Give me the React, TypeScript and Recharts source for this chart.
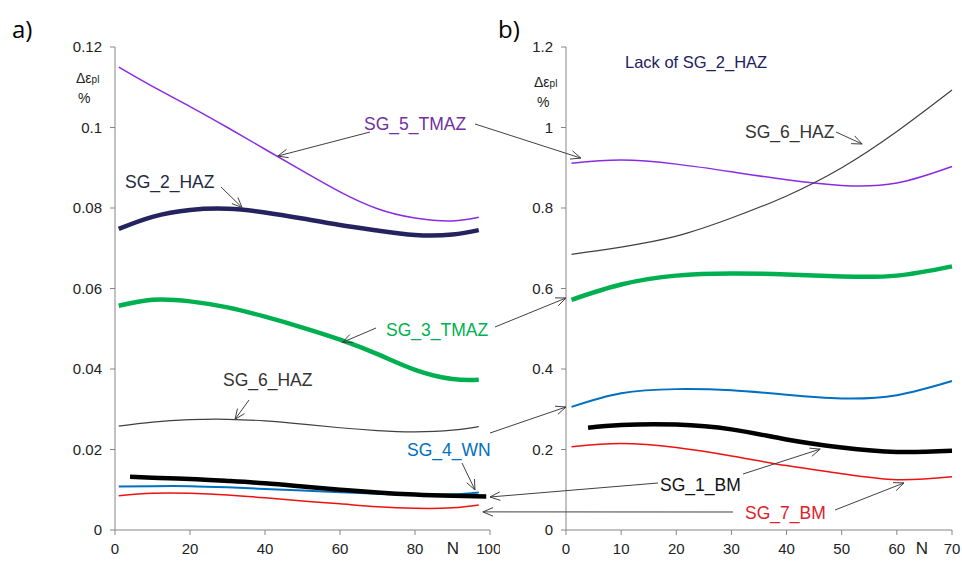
import React from "react";
import { LineChart, Line, XAxis, YAxis } from "recharts";

// panel a) x positions (cycles N)
const leftN = [1, 10, 20, 30, 40, 50, 60, 70, 80, 90, 97];
const leftBmN = [4, 10, 20, 30, 40, 50, 60, 70, 80, 90, 99];
const sg5TmazA = [0.115, 0.1102, 0.1052, 0.1, 0.0946, 0.0892, 0.084, 0.0798, 0.0775, 0.0768, 0.0777];
const sg2HazA = [0.0748, 0.0778, 0.0795, 0.0798, 0.0789, 0.0774, 0.0758, 0.0744, 0.0733, 0.0734, 0.0745];
const sg3TmazA = [0.0557, 0.0572, 0.0568, 0.0553, 0.053, 0.0503, 0.0473, 0.0437, 0.0398, 0.0375, 0.0373];
const sg6HazA = [0.0258, 0.0268, 0.0274, 0.0275, 0.0271, 0.0263, 0.0254, 0.0247, 0.0244, 0.0248, 0.0257];
const sg4WnA = [0.0108, 0.0109, 0.0109, 0.0106, 0.0102, 0.0098, 0.0094, 0.009, 0.0087, 0.0088, 0.0093];
const sg7BmA = [0.0085, 0.0091, 0.0091, 0.0087, 0.008, 0.0072, 0.0065, 0.0058, 0.0054, 0.0055, 0.0062];
const sg1BmA = [0.0132, 0.013, 0.0127, 0.0122, 0.0116, 0.0108, 0.01, 0.0093, 0.0088, 0.0085, 0.0083];

// panel b) x positions
const rightN = [1, 10, 20, 30, 40, 50, 60, 70];
const rightBmN = [4, 10, 20, 30, 40, 50, 60, 70];
const sg5TmazB = [0.911, 0.919, 0.909, 0.89, 0.87, 0.856, 0.862, 0.903];
const sg6HazB = [0.685, 0.703, 0.73, 0.775, 0.83, 0.9, 0.99, 1.093];
const sg3TmazB = [0.572, 0.61, 0.632, 0.637, 0.635, 0.63, 0.632, 0.655];
const sg4WnB = [0.306, 0.34, 0.35, 0.347, 0.336, 0.327, 0.335, 0.37];
const sg1BmB = [0.254, 0.261, 0.262, 0.25, 0.225, 0.205, 0.194, 0.197];
const sg7BmB = [0.207, 0.215, 0.205, 0.184, 0.16, 0.14, 0.125, 0.132];

const leftXTicks = [0, 20, 40, 60, 80, 100];
const leftYTicks = [0, 0.02, 0.04, 0.06, 0.08, 0.1, 0.12];
const rightXTicks = [0, 10, 20, 30, 40, 50, 60, 70];
const rightYTicks = [0, 0.2, 0.4, 0.6, 0.8, 1, 1.2];

const zip = (xs: number[], ys: number[]) => xs.map((x, i) => ({ n: x, v: ys[i] }));

// layout
const H = 561;
const TOP = 47;
const BOTTOM = 530;
const A = { left: 0, width: 500, mLeft: 55, mRight: 10, yw: 60, max: 100, ymax: 0.12 };
const B = { left: 500, width: 462, mLeft: 6, mRight: 10, yw: 60, max: 70, ymax: 1.2 };

type Panel = typeof A;
const px = (p: Panel, n: number) => {
  const x0 = p.left + p.mLeft + p.yw;
  const x1 = p.left + p.width - p.mRight;
  return x0 + (n / p.max) * (x1 - x0);
};
const py = (p: Panel, v: number) => BOTTOM - (v / p.ymax) * (BOTTOM - TOP);

const axisGray = "#868686";
const font = "'Liberation Sans', Arial, sans-serif";
const tickStyle = { fill: "#222", fontSize: 15, fontFamily: font };

interface SeriesDef {
  key: string;
  data: { n: number; v: number }[];
  color: string;
  width: number;
}

const seriesA: SeriesDef[] = [
  { key: "sg5", data: zip(leftN, sg5TmazA), color: "#8a2be2", width: 1.5 },
  { key: "sg2", data: zip(leftN, sg2HazA), color: "#25235f", width: 4.5 },
  { key: "sg3", data: zip(leftN, sg3TmazA), color: "#00b050", width: 4.5 },
  { key: "sg6", data: zip(leftN, sg6HazA), color: "#404040", width: 1.2 },
  { key: "sg7", data: zip(leftN, sg7BmA), color: "#ee1111", width: 1.5 },
  { key: "sg4", data: zip(leftN, sg4WnA), color: "#0070c0", width: 2 },
  { key: "sg1", data: zip(leftBmN, sg1BmA), color: "#000000", width: 4.5 },
];

const seriesB: SeriesDef[] = [
  { key: "sg5", data: zip(rightN, sg5TmazB), color: "#8a2be2", width: 1.5 },
  { key: "sg6", data: zip(rightN, sg6HazB), color: "#404040", width: 1.2 },
  { key: "sg3", data: zip(rightN, sg3TmazB), color: "#00b050", width: 4.5 },
  { key: "sg4", data: zip(rightN, sg4WnB), color: "#0070c0", width: 2 },
  { key: "sg7", data: zip(rightN, sg7BmB), color: "#ee1111", width: 1.5 },
  { key: "sg1", data: zip(rightBmN, sg1BmB), color: "#000000", width: 4.5 },
];

function Panel({ p, series, xTicks, yTicks }: { p: Panel; series: SeriesDef[]; xTicks: number[]; yTicks: number[] }) {
  return (
    <div style={{ position: "absolute", left: p.left, top: 0 }}>
      <LineChart
        width={p.width}
        height={H}
        margin={{ top: TOP, right: p.mRight, left: p.mLeft, bottom: 0 }}
      >
        <XAxis
          type="number"
          dataKey="n"
          domain={[0, p.max]}
          ticks={xTicks}
          height={H - BOTTOM}
          tick={tickStyle}
          tickSize={5}
          tickMargin={8}
          axisLine={{ stroke: axisGray }}
          tickLine={{ stroke: axisGray }}
          allowDuplicatedCategory={false}
        />
        <YAxis
          type="number"
          domain={[0, p.ymax]}
          ticks={yTicks}
          width={p.yw}
          tick={tickStyle}
          tickSize={5}
          tickMargin={8}
          axisLine={{ stroke: axisGray }}
          tickLine={{ stroke: axisGray }}
        />
        {series.map((s) => (
          <Line
            key={s.key}
            data={s.data}
            dataKey="v"
            type="natural"
            stroke={s.color}
            strokeWidth={s.width}
            dot={false}
            activeDot={false}
            isAnimationActive={false}
          />
        ))}
      </LineChart>
    </div>
  );
}

// annotations: label text in page px, arrows from a page point to a data point
interface Note {
  text: string;
  x: number;
  y: number;
  color: string;
  arrows: { from: [number, number]; panel: Panel; n: number; v: number }[];
}

const notes: Note[] = [
  {
    text: "SG_5_TMAZ", x: 364, y: 124, color: "#7030a0",
    arrows: [
      { from: [370, 132], panel: A, n: 43.4, v: 0.0929 },
      { from: [475, 124], panel: B, n: 2.7, v: 0.924 },
    ],
  },
  {
    text: "SG_2_HAZ", x: 125, y: 182, color: "#1f2a44",
    arrows: [{ from: [221, 187], panel: A, n: 33.9, v: 0.0801 }],
  },
  {
    text: "SG_3_TMAZ", x: 386, y: 330, color: "#00b050",
    arrows: [
      { from: [376, 328], panel: A, n: 60.6, v: 0.0466 },
      { from: [495, 327], panel: B, n: 0, v: 0.5764 },
    ],
  },
  {
    text: "SG_6_HAZ", x: 223, y: 380, color: "#333333",
    arrows: [{ from: [249, 400], panel: A, n: 32, v: 0.0275 }],
  },
  {
    text: "SG_6_HAZ", x: 745, y: 132, color: "#333333",
    arrows: [{ from: [836, 132], panel: B, n: 53.7, v: 0.959 }],
  },
  {
    text: "SG_4_WN", x: 407, y: 450, color: "#0070c0",
    arrows: [
      { from: [462, 463], panel: A, n: 96, v: 0.00994 },
      { from: [490, 433], panel: B, n: 0, v: 0.3056 },
    ],
  },
  {
    text: "SG_1_BM", x: 660, y: 485, color: "#111111",
    arrows: [
      { from: [658, 483], panel: A, n: 100, v: 0.0082 },
      { from: [743, 474], panel: B, n: 46.1, v: 0.201 },
    ],
  },
  {
    text: "SG_7_BM", x: 745, y: 513, color: "#e0202a",
    arrows: [
      { from: [733, 512], panel: A, n: 98.1, v: 0.0045 },
      { from: [835, 510], panel: B, n: 61.3, v: 0.117 },
    ],
  },
];

function Arrow({ x1, y1, x2, y2 }: { x1: number; y1: number; x2: number; y2: number }) {
  const ang = Math.atan2(y2 - y1, x2 - x1);
  const len = 11;
  const spread = 0.4;
  const h1 = [x2 - len * Math.cos(ang - spread), y2 - len * Math.sin(ang - spread)];
  const h2 = [x2 - len * Math.cos(ang + spread), y2 - len * Math.sin(ang + spread)];
  return (
    <g stroke="#404040" strokeWidth={1} fill="none">
      <line x1={x1} y1={y1} x2={x2} y2={y2} />
      <polyline points={`${h1[0]},${h1[1]} ${x2},${y2} ${h2[0]},${h2[1]}`} />
    </g>
  );
}

function Overlay() {
  return (
    <svg
      width={962}
      height={H}
      style={{ position: "absolute", left: 0, top: 0, pointerEvents: "none" }}
      fontFamily={font}
    >
      <text x={12} y={28} fontSize={24} fontFamily="'Open Sans', sans-serif" dominantBaseline="central" fill="#000">a)</text>
      <text x={498} y={28} fontSize={24} fontFamily="'Open Sans', sans-serif" dominantBaseline="central" fill="#000">b)</text>

      <text x={76} y={78} fontSize={14} dominantBaseline="central" fill="#222">
        Δε<tspan fontSize={10} dy={1}>pl</tspan>
      </text>
      <text x={78} y={98} fontSize={14} dominantBaseline="central" fill="#222">%</text>
      <text x={534} y={82} fontSize={14} dominantBaseline="central" fill="#222">
        Δε<tspan fontSize={10} dy={1}>pl</tspan>
      </text>
      <text x={537} y={102} fontSize={14} dominantBaseline="central" fill="#222">%</text>

      <text x={453} y={548} fontSize={17} textAnchor="middle" dominantBaseline="central" fill="#222">N</text>
      <text x={922} y={548} fontSize={17} textAnchor="middle" dominantBaseline="central" fill="#222">N</text>

      <text x={625} y={62} fontSize={16.5} dominantBaseline="central" fill="#1f2060">Lack of SG_2_HAZ</text>

      {notes.map((nt, i) => (
        <g key={i}>
          {nt.arrows.map((a, j) => (
            <Arrow key={j} x1={a.from[0]} y1={a.from[1]} x2={px(a.panel, a.n)} y2={py(a.panel, a.v)} />
          ))}
          <text x={nt.x} y={nt.y} fontSize={17.5} dominantBaseline="central" fill={nt.color}>
            {nt.text}
          </text>
        </g>
      ))}
    </svg>
  );
}

export default function App() {
  return (
    <div style={{ position: "absolute", left: 0, top: 0, width: 962, height: H, background: "#fff" }}>
      <Panel p={A} series={seriesA} xTicks={leftXTicks} yTicks={leftYTicks} />
      <Panel p={B} series={seriesB} xTicks={rightXTicks} yTicks={rightYTicks} />
      <Overlay />
    </div>
  );
}
